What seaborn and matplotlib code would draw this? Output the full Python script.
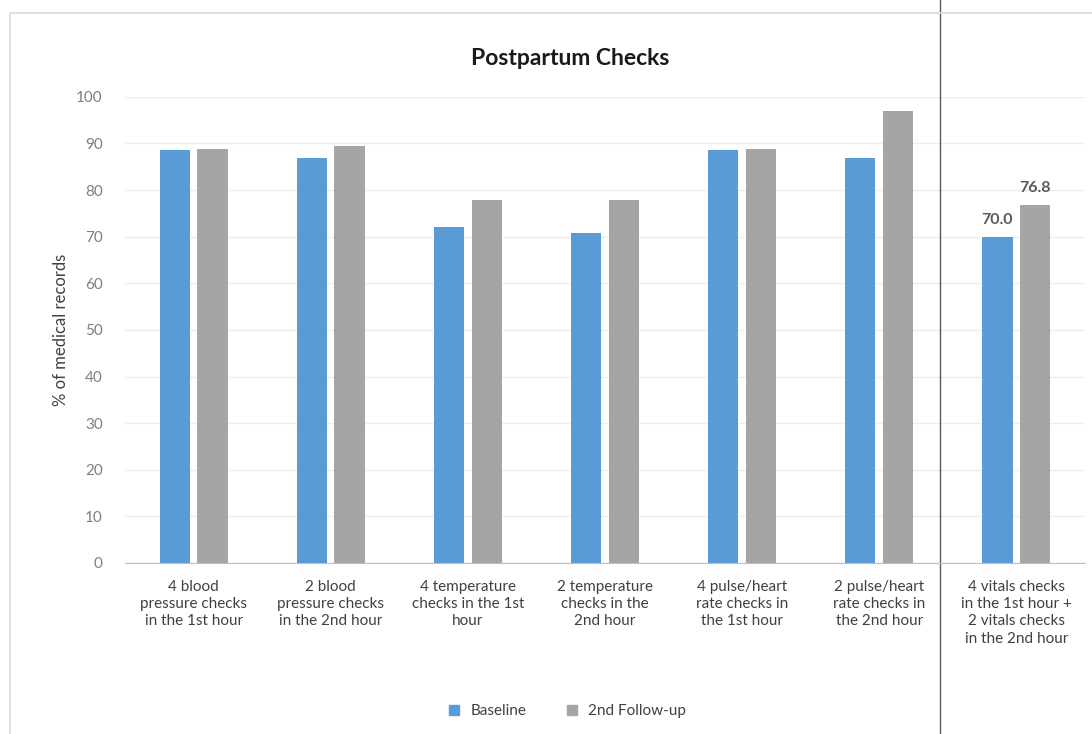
import pandas as pd
import seaborn as sns
from matplotlib import pyplot as plt
from matplotlib.patches import Rectangle
from matplotlib.lines import Line2D

categories = [
    "4 blood\npressure checks\nin the 1st hour",
    "2 blood\npressure checks\nin the 2nd hour",
    "4 temperature\nchecks in the 1st\nhour",
    "2 temperature\nchecks in the\n2nd hour",
    "4 pulse/heart\nrate checks in\nthe 1st hour",
    "2 pulse/heart\nrate checks in\nthe 2nd hour",
    "4 vitals checks\nin the 1st hour +\n2 vitals checks\nin the 2nd hour",
]
series = ["Baseline", "2nd Follow-up"]
baseline = [88.7, 86.8, 72.0, 70.9, 88.7, 86.8, 70.0]
follow_up = [88.9, 89.5, 77.9, 77.9, 88.9, 97.0, 76.8]
colors = ["#5B9BD5", "#A5A5A5"]


def main():
    records = []
    for cat, b, f in zip(categories, baseline, follow_up):
        records.append({"category": cat, "series": series[0], "value": b})
        records.append({"category": cat, "series": series[1], "value": f})
    df = pd.DataFrame.from_records(records)

    sns.set_style("white")
    plt.rcParams["font.family"] = ["Lato", "DejaVu Sans"]

    fig = plt.figure(figsize=(10.92, 7.34), dpi=100)
    ax = fig.add_axes([0.1145, 0.233, 0.879, 0.635])

    sns.barplot(x="category", y="value", hue="series", data=df, order=categories,
                hue_order=series, palette=colors, width=0.55, gap=0.2,
                saturation=1, linewidth=0, ax=ax, legend=False)

    ax.set_ylim(0, 100)
    ax.set_xlim(-0.5, len(categories) - 0.5)
    ax.set_yticks(range(0, 101, 10))
    ax.yaxis.grid(True, color="#EDEDED", linewidth=1)
    ax.set_axisbelow(True)
    for side in ("top", "right", "left"):
        ax.spines[side].set_visible(False)
    ax.spines["bottom"].set_color("#BFBFBF")
    ax.tick_params(axis="y", colors="#7F7F7F", labelsize=11, length=0, pad=16)
    ax.tick_params(axis="x", colors="#404040", labelsize=11, length=0, pad=12)
    for lbl in ax.get_xticklabels():
        lbl.set_linespacing(1.3)
    ax.set_xlabel("")
    ax.set_ylabel("% of medical records", fontsize=12, color="#404040", labelpad=5)

    # value labels on the last group only
    for cont in ax.containers:
        last = cont.patches[-1]
        ax.annotate(f"{last.get_height():.1f}",
                    (last.get_x() + last.get_width() / 2, last.get_height()),
                    xytext=(0, 7), textcoords="offset points", ha="center",
                    va="bottom", fontsize=11.5, fontweight="bold", color="#595959")

    # separator line between last group and others
    ax.axvline(5.44, ymin=-0.5, ymax=1.5, color="#595959", linewidth=1, clip_on=False)

    fig.text(0.522, 0.920, "Postpartum Checks", ha="center", va="center",
             fontsize=16.5, fontweight="bold", color="#1a1a1a")

    handles = [Line2D([], [], marker="s", linestyle="", markersize=6.5,
                      markerfacecolor=c, markeredgecolor=c) for c in colors]
    fig.legend(handles, series, loc="center", bbox_to_anchor=(0.515, 0.031),
               ncol=2, frameon=False, fontsize=11, handletextpad=0.05,
               columnspacing=2.0, labelcolor="#404040")

    fig.patches.append(Rectangle((10 / 1092, -0.1), 1.2, 1.1 - 13 / 734,
                                 transform=fig.transFigure, fill=False,
                                 edgecolor="#D9D9D9", linewidth=1.2))

    fig.savefig("out.png", dpi=100)


if __name__ == "__main__":
    main()
